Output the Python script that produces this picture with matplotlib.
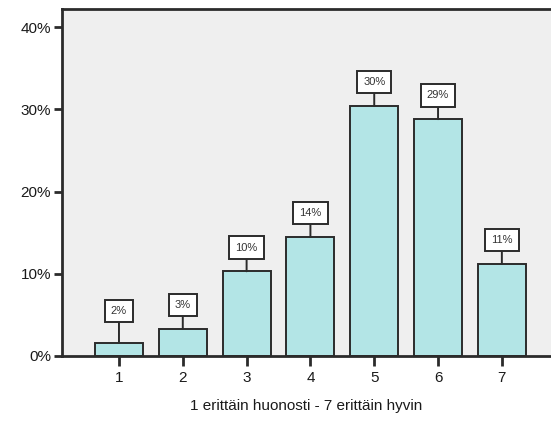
import matplotlib.pyplot as plt
from matplotlib.ticker import FuncFormatter

# Answer distribution, share of respondents (%)
categories = ['1', '2', '3', '4', '5', '6', '7']
shares = [1.6, 3.3, 10.3, 14.5, 30.4, 28.8, 11.2]
y_ticks = [0, 10, 20, 30, 40]
x_label = '1 erittäin huonosti - 7 erittäin hyvin'

plt.rcParams['font.family'] = ['Liberation Sans', 'DejaVu Sans']

fig = plt.figure(figsize=(5.51, 4.25), dpi=100)
ax = fig.add_axes([0.1125, 0.1624, 0.8875, 0.8164])
ax.set_facecolor('#efefef')

pos = list(range(1, len(categories) + 1))
ax.bar(pos, shares, width=0.75, color='#b3e5e6', edgecolor='#2b2b2b',
       linewidth=1.4, zorder=2)

# value boxes above the bars, lifted a bit for very short bars
for x, v in zip(pos, shares):
    lift = 13.5 + max(0, 2.6 - v) * 8.2 * 0.72
    ax.annotate(f'{round(v):d}%', xy=(x, v), xytext=(0, lift),
                textcoords='offset points', ha='center', va='bottom',
                fontsize=8, color='#333333',
                family=['Liberation Sans Narrow', 'Liberation Sans', 'DejaVu Sans'],
                bbox=dict(boxstyle='square,pad=0.55', fc='white', ec='#2b2b2b', lw=1.4),
                arrowprops=dict(arrowstyle='-', color='#2b2b2b', lw=1.4,
                                shrinkA=0, shrinkB=0), zorder=3)

ax.set_xlim(0.107, 7.77)
ax.set_ylim(0, 42.2)
ax.set_xticks(pos)
ax.set_xticklabels(categories)
ax.set_yticks(y_ticks)
ax.yaxis.set_major_formatter(FuncFormatter(lambda v, p: f'{v:.0f}%'))

ax.spines['right'].set_visible(False)
for side in ['left', 'top', 'bottom']:
    ax.spines[side].set_color('#2b2b2b')
    ax.spines[side].set_linewidth(2)

ax.tick_params(axis='y', length=6, width=2, color='#2b2b2b', labelsize=11,
               labelcolor='#1a1a1a', pad=2)
ax.tick_params(axis='x', length=7, width=2, color='#2b2b2b', labelsize=11,
               labelcolor='#1a1a1a', pad=4)
ax.set_xlabel(x_label, fontsize=11, color='#1a1a1a', labelpad=10)

fig.savefig('out.png', dpi=100)
